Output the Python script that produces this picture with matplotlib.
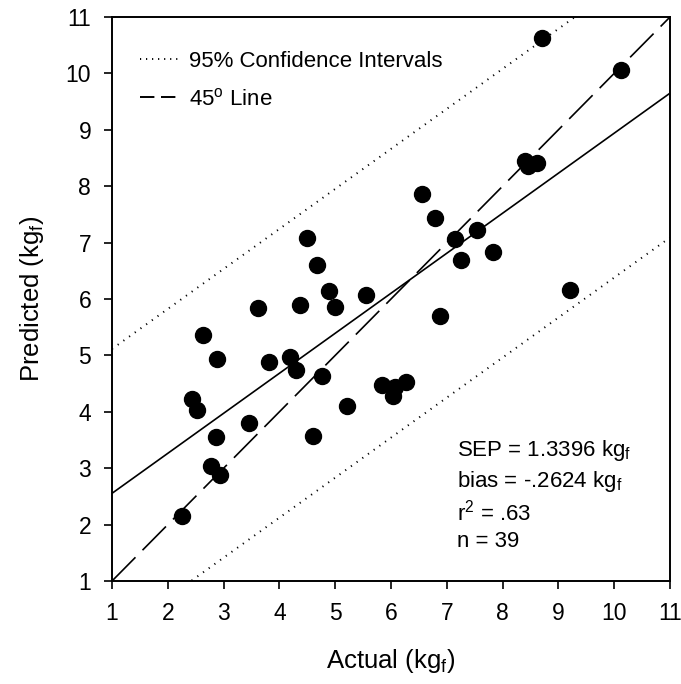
import matplotlib
matplotlib.use("Agg")
import matplotlib.pyplot as plt
from matplotlib.lines import Line2D
import numpy as np

plt.rcParams['font.family'] = ['Liberation Sans', 'DejaVu Sans']
plt.rcParams['mathtext.fontset'] = 'custom'
plt.rcParams['mathtext.rm'] = 'Liberation Sans'
plt.rcParams['mathtext.it'] = 'Liberation Sans'

actual = [2.25, 2.77, 2.94, 2.86, 3.46, 2.43, 2.52, 2.89, 2.63, 3.62,
          4.37, 4.89, 5.00, 5.56, 3.82, 4.19, 4.29, 4.77, 4.61, 5.21,
          5.84, 6.03, 6.08, 6.27, 6.88, 9.21, 4.49, 4.67, 8.71, 10.12,
          8.41, 8.45, 8.61, 6.55, 6.78, 7.55, 7.15, 7.83, 7.25]
predicted = [2.15, 3.04, 2.88, 3.55, 3.80, 4.23, 4.04, 4.94, 5.36, 5.84,
             5.90, 6.14, 5.85, 6.07, 4.88, 4.98, 4.74, 4.63, 3.57, 4.11,
             4.47, 4.28, 4.44, 4.52, 5.69, 6.16, 7.09, 6.60, 10.63, 10.06,
             8.45, 8.36, 8.42, 7.87, 7.43, 7.22, 7.07, 6.84, 6.69]

fit_intercept = 1.845
fit_slope = 0.7095
ci_offset = 2.56
ticks = list(range(1, 12))
legend_labels = ['95% Confidence Intervals', r'45$^\mathregular{o}$ Line']
stats_lines = [r'SEP = 1.3396 kg$_\mathregular{f}$',
               r'bias = -.2624 kg$_\mathregular{f}$',
               r'r$^\mathregular{2}$ = .63',
               'n = 39']

fig = plt.figure(figsize=(6.81, 6.84), dpi=100)
ax = fig.add_axes([0.1645, 0.1506, 0.8193, 0.8245])

dot_style = (0, (0.6, 3.0))
xl = np.array([1, 11])
ax.plot(xl, fit_intercept + fit_slope * xl, color='black', lw=1.2)
ax.plot(xl, fit_intercept + fit_slope * xl + ci_offset, color='black', lw=1.4,
        linestyle=dot_style)
ax.plot(xl, fit_intercept + fit_slope * xl - ci_offset, color='black', lw=1.4,
        linestyle=dot_style)
ax.plot(xl, xl, color='black', lw=1.2, linestyle=(0, (20, 6)))
ax.plot(actual, predicted, 'o', color='black', markersize=11.5, linestyle='none')

ax.set_xlim(1, 11)
ax.set_ylim(1, 11)
ax.set_xticks(ticks)
ax.set_yticks(ticks)
ax.tick_params(direction='out', length=6, width=1.2, labelsize=16.5, pad=9)
for s in ax.spines.values():
    s.set_linewidth(1.4)

ax.set_xlabel(r'Actual (kg$_\mathregular{f}$)', fontsize=18.5, labelpad=16)
ax.set_ylabel(r'Predicted (kg$_\mathregular{f}$)', fontsize=18.5, labelpad=14)

handles = [Line2D([], [], color='black', lw=1.4, linestyle=(0, (0.6, 2.5))),
           Line2D([], [], color='black', lw=1.4, linestyle=(0, (7.4, 3.4)))]
ax.legend(handles, legend_labels, loc='upper left', frameon=False, fontsize=16,
          handlelength=1.75, handletextpad=0.45, labelspacing=0.75,
          borderaxespad=0.5, bbox_to_anchor=(0.015, 0.976))

ys = [0.2222, 0.1672, 0.1064, 0.0608]
for t, yy in zip(stats_lines, ys):
    ax.text(0.618, yy, t, transform=ax.transAxes, fontsize=16, va='baseline', ha='left')

fig.savefig('out.png', dpi=100)
